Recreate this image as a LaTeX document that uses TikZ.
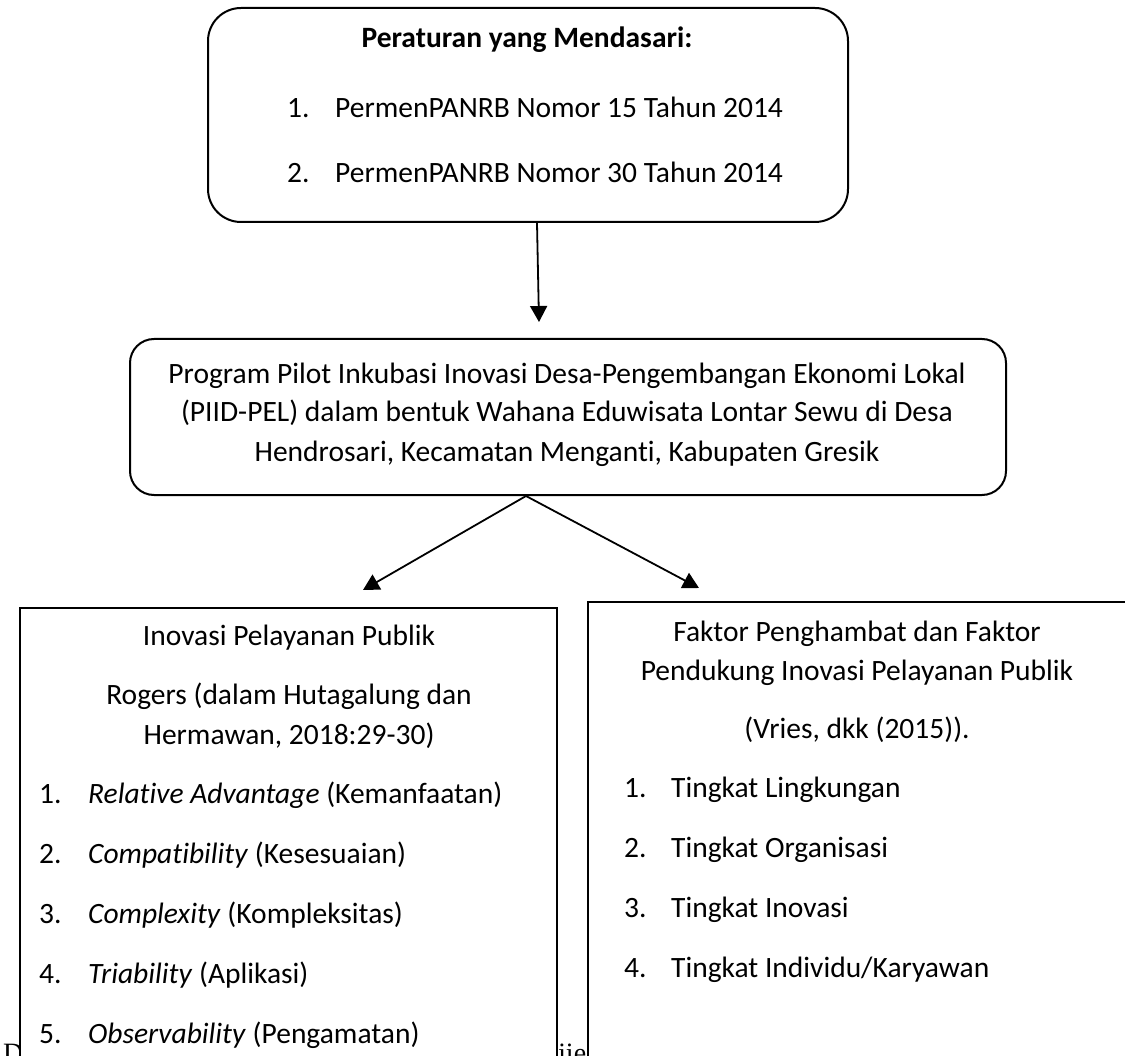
\documentclass[tikz,border=0pt]{standalone}
\usepackage{fontspec}
\setmainfont{Carlito}[Ligatures={NoCommon}]
\newfontfamily\bgserif{Liberation Serif}
\usetikzlibrary{arrows.meta}
\begin{document}
\begin{tikzpicture}[x=1pt,y=-1pt,
  txt/.style={inner sep=0pt, font=\fontsize{29.5}{36}\selectfont},
  ctxt/.style={txt, anchor=base},
  ltxt/.style={txt, anchor=base west},
  rbox/.style={draw, line width=2pt, fill=white, inner sep=0pt, anchor=north west},
  conn/.style={line width=1.8pt, -{Triangle[width=17pt,length=16pt]}}
]
\useasboundingbox (0,0) rectangle (1125,1056);
\clip (0,0) rectangle (1125,1056);
\fill[white] (0,0) rectangle (1125,1056);

% background text partly hidden
\node[inner sep=0pt, anchor=base west, font=\bgserif\fontsize{28}{34}\selectfont] (bgD) at (3,1062) {D};
\node[inner sep=0pt, anchor=base west, font=\bgserif\fontsize{28}{34}\selectfont] (bgJ) at (558,1062) {jie};

% top box
\node[rbox, rounded corners=33pt, minimum width=640pt, minimum height=214pt] (top) at (207,7) {};
\node[ctxt, font=\fontsize{29.5}{36}\selectfont\bfseries] (t0) at (527,48) {Peraturan yang Mendasari:};
\node[ltxt] (t1n) at (287,118) {1.};
\node[ltxt] (t1) at (335,118) {PermenPANRB Nomor 15 Tahun 2014};
\node[ltxt] (t2n) at (287,183) {2.};
\node[ltxt] (t2) at (335,183) {PermenPANRB Nomor 30 Tahun 2014};

% middle box
\node[rbox, rounded corners=24pt, minimum width=876pt, minimum height=156pt] (mid) at (129,338) {};
\node[ctxt] (m1) at (567,384) {Program Pilot Inkubasi Inovasi Desa-Pengembangan Ekonomi Lokal};
\node[ctxt] (m2) at (567,422) {(PIID-PEL) dalam bentuk Wahana Eduwisata Lontar Sewu di Desa};
\node[ctxt] (m3) at (567,462) {Hendrosari, Kecamatan Menganti, Kabupaten Gresik};

% left box
\node[rbox, minimum width=537pt, minimum height=500pt] (lbox) at (19,607) {};
\node[ctxt] (l0) at (289,645) {Inovasi Pelayanan Publik};
\node[ctxt] (l1) at (289,704) {Rogers (dalam Hutagalung dan};
\node[ctxt] (l2) at (289,744) {Hermawan, 2018:29-30)};
\node[ltxt] (la) at (39,803) {1.};
\node[ltxt] (lat) at (88,803) {\textit{Relative Advantage} (Kemanfaatan)};
\node[ltxt] (lb) at (39,863) {2.};
\node[ltxt] (lbt) at (88,863) {\textit{Compatibility} (Kesesuaian)};
\node[ltxt] (lc) at (39,923) {3.};
\node[ltxt] (lct) at (88,923) {\textit{Complexity} (Kompleksitas)};
\node[ltxt] (ld) at (39,983) {4.};
\node[ltxt] (ldt) at (88,983) {\textit{Triability} (Aplikasi)};
\node[ltxt] (le) at (39,1043) {5.};
\node[ltxt] (let) at (88,1043) {\textit{Observability} (Pengamatan)};

% right box
\node[rbox, minimum width=542pt, minimum height=510pt] (rbx) at (587,601) {};
\node[ctxt] (r0) at (857,641) {Faktor Penghambat dan Faktor};
\node[ctxt] (r1) at (857,680) {Pendukung Inovasi Pelayanan Publik};
\node[ctxt] (r2) at (857,738) {(Vries, dkk (2015)).};
\node[ltxt] (ra) at (624,797) {1.};
\node[ltxt] (rat) at (671,797) {Tingkat Lingkungan};
\node[ltxt] (rb) at (624,857) {2.};
\node[ltxt] (rbt) at (671,857) {Tingkat Organisasi};
\node[ltxt] (rc) at (624,917) {3.};
\node[ltxt] (rct) at (671,917) {Tingkat Inovasi};
\node[ltxt] (rd) at (624,977) {4.};
\node[ltxt] (rdt) at (671,977) {Tingkat Individu/Karyawan};

% connectors
\coordinate (a1) at (539,322);
\coordinate (aL) at (363,590);
\coordinate (aR) at (699,588);
\draw[conn] ([xshift=9pt]top.south) -- (a1);
\draw[conn] ([xshift=-42pt]mid.south) -- (aL);
\draw[conn] ([xshift=-42pt]mid.south) -- (aR);
\end{tikzpicture}
\end{document}
